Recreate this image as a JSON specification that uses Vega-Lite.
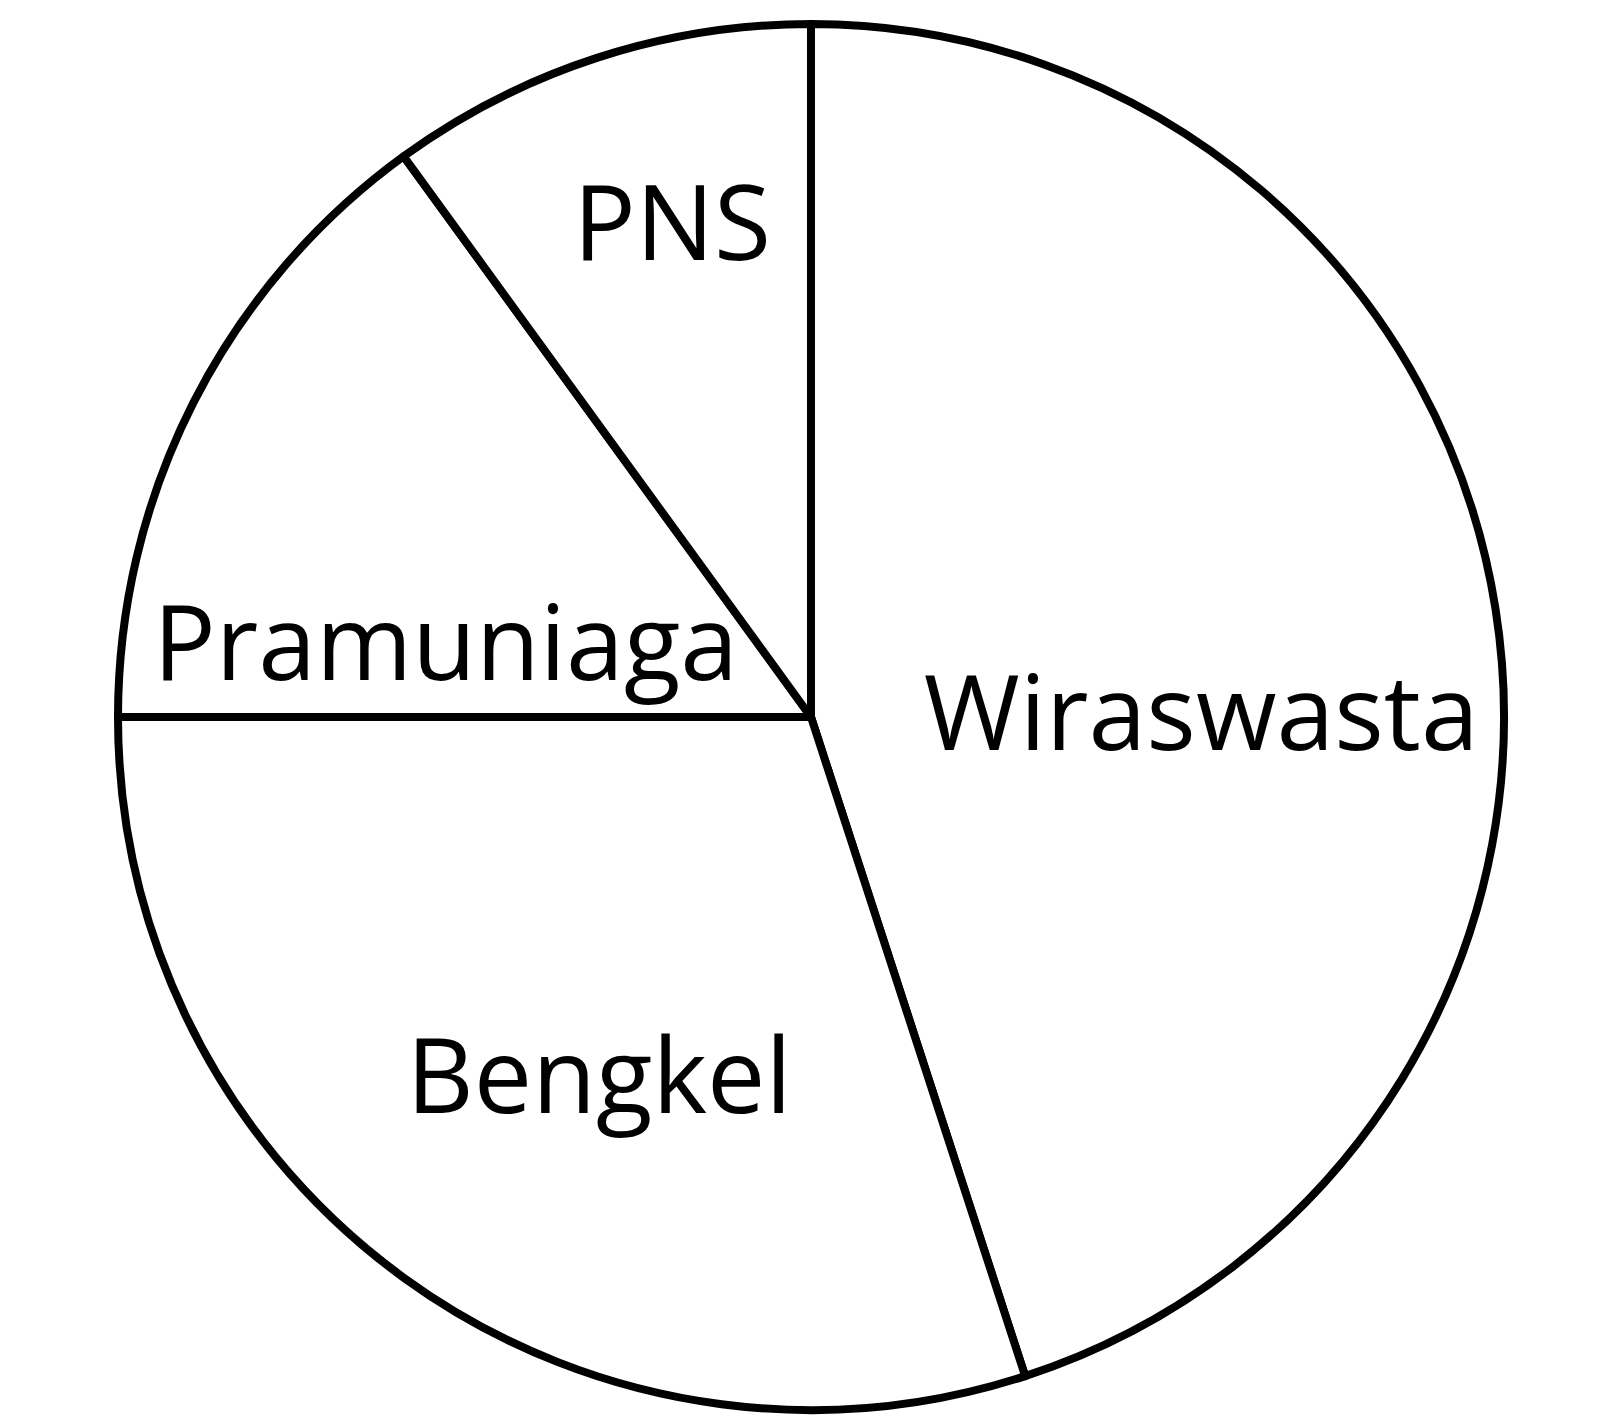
{
  "$schema": "https://vega.github.io/schema/vega-lite/v6.json",
  "autosize": {"type": "fit", "contains": "padding"},
  "width": 1616,
  "height": 1428,
  "padding": {"left": 6, "top": 6, "right": 0, "bottom": 0},
  "background": "white",
  "config": {"view": {"stroke": null}},
  "data": {
    "values": [
      {"pekerjaan": "Wiraswasta", "persen": 45, "urut": 1},
      {"pekerjaan": "Bengkel", "persen": 30, "urut": 2},
      {"pekerjaan": "Pramuniaga", "persen": 15, "urut": 3},
      {"pekerjaan": "PNS", "persen": 10, "urut": 4}
    ]
  },
  "encoding": {
    "theta": {"field": "persen", "type": "quantitative", "stack": true},
    "order": {"field": "urut", "type": "quantitative"}
  },
  "layer": [
    {
      "mark": {"type": "arc", "outerRadius": 693, "fill": "white", "stroke": "black", "strokeWidth": 8, "strokeJoin": "round"}
    },
    {
      "mark": {"type": "text", "radius": 511, "dx": 19, "dy": -2, "font": "Open Sans", "fontSize": 104, "fill": "black", "align": "center", "baseline": "middle"},
      "encoding": {"text": {"condition": {"test": "datum.pekerjaan === 'PNS'", "field": "pekerjaan"}, "value": ""}}
    },
    {
      "mark": {"type": "text", "radius": 373, "dx": -33, "dy": 101, "font": "Open Sans", "fontSize": 104, "fill": "black", "align": "center", "baseline": "middle"},
      "encoding": {"text": {"condition": {"test": "datum.pekerjaan === 'Pramuniaga'", "field": "pekerjaan"}, "value": ""}}
    },
    {
      "mark": {"type": "text", "radius": 389, "dx": 6, "dy": 63, "font": "Open Sans", "fontSize": 104, "fill": "black", "align": "center", "baseline": "middle"},
      "encoding": {"text": {"condition": {"test": "datum.pekerjaan === 'Wiraswasta'", "field": "pekerjaan"}, "value": ""}}
    },
    {
      "mark": {"type": "text", "radius": 420, "dx": 35, "dy": 25, "font": "Open Sans", "fontSize": 104, "fill": "black", "align": "center", "baseline": "middle"},
      "encoding": {"text": {"condition": {"test": "datum.pekerjaan === 'Bengkel'", "field": "pekerjaan"}, "value": ""}}
    }
  ]
}
